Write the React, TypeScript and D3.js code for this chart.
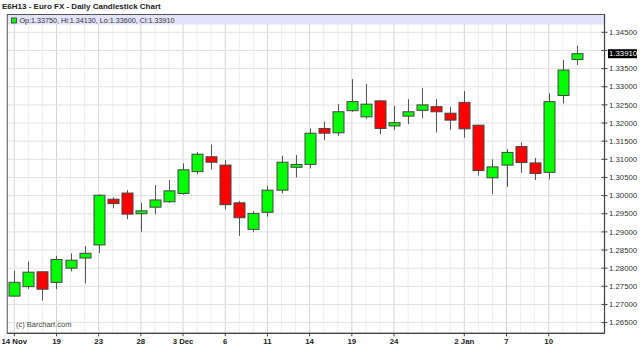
import React from "react";
import * as d3 from "d3";

const dates = [
  "2012-11-14","2012-11-15","2012-11-16","2012-11-19","2012-11-20","2012-11-21","2012-11-23",
  "2012-11-26","2012-11-27","2012-11-28","2012-11-29","2012-11-30",
  "2012-12-03","2012-12-04","2012-12-05","2012-12-06","2012-12-07",
  "2012-12-10","2012-12-11","2012-12-12","2012-12-13","2012-12-14",
  "2012-12-17","2012-12-18","2012-12-19","2012-12-20","2012-12-21",
  "2012-12-24","2012-12-26","2012-12-27","2012-12-28","2012-12-31",
  "2013-01-02","2013-01-03","2013-01-04","2013-01-07","2013-01-08","2013-01-09","2013-01-10","2013-01-11","2013-01-14",
];
const opens = [
  1.2723,1.2749,1.2790,1.2761,1.2800,1.2828,1.2864,
  1.2990,1.3007,1.2950,1.2968,1.2983,
  1.3006,1.3066,1.3107,1.3084,1.2980,
  1.2907,1.2954,1.3015,1.3078,1.3086,
  1.3185,1.3173,1.3234,1.3217,1.3261,
  1.3192,1.3219,1.3235,1.3245,1.3227,
  1.3257,1.3194,1.3049,1.3084,1.3135,1.3090,1.3064,1.3276,1.3375,
];
const highs = [
  1.2793,1.2818,1.2791,1.2834,1.2841,1.2861,1.3003,
  1.2995,1.3015,1.2980,1.3029,1.3043,
  1.3089,1.3120,1.3141,1.3098,1.2985,
  1.2957,1.3027,1.3110,1.3112,1.3185,
  1.3204,1.3252,1.3321,1.3308,1.3262,
  1.3247,1.3266,1.3296,1.3266,1.3245,
  1.3288,1.3195,1.3100,1.3128,1.3147,1.3104,1.3282,1.3374,1.3413,
];
const lows = [
  1.2722,1.2743,1.2710,1.2742,1.2791,1.2758,1.2842,
  1.2965,1.2935,1.2900,1.2948,1.2980,
  1.3002,1.3059,1.3072,1.2962,1.2889,
  1.2899,1.2942,1.3006,1.3050,1.3075,
  1.3153,1.3165,1.3231,1.3212,1.3169,
  1.3181,1.3197,1.3213,1.3174,1.3181,
  1.3160,1.3055,1.3004,1.3024,1.3063,1.3043,1.3045,1.3254,1.3360,
];
const closes = [
  1.2761,1.2789,1.2742,1.2824,1.2822,1.2841,1.3001,
  1.2978,1.2949,1.2958,1.2988,1.3013,
  1.3071,1.3114,1.3092,1.2975,1.2939,
  1.2951,1.3015,1.3092,1.3086,1.3172,
  1.3172,1.3231,1.3259,1.3252,1.3185,
  1.3201,1.3231,1.3250,1.3231,1.3208,
  1.3184,1.3069,1.3079,1.3119,1.3091,1.3061,1.3259,1.3346,1.3391,
];
const tickDates = ["2012-11-14","2012-11-19","2012-11-23","2012-11-28","2012-12-03","2012-12-06","2012-12-11","2012-12-14","2012-12-19","2012-12-24","2013-01-02","2013-01-07","2013-01-10"];
const tickLabels = ["14 Nov","19","23","28","3 Dec","6","11","14","19","24","2 Jan","7","10"];
const yTicks = [1.265,1.27,1.275,1.28,1.285,1.29,1.295,1.30,1.305,1.31,1.315,1.32,1.325,1.33,1.335,1.34,1.345];
const title = "E6H13 - Euro FX - Daily Candlestick Chart";

const FONT = "'Liberation Sans', Arial, sans-serif";

export default function App() {
  const W = 640, H = 363;
  const x = d3.scaleLinear().domain([0, 38]).range([14.3, 548.7]);
  const y = d3.scaleLinear().domain([1.265, 1.345]).range([322.6, 32.3]);
  const left = x(-0.5), right = 604.5, top = 14.5, bottom = 333.3;
  const bw = 11;
  const last = dates.length - 1;
  const fmt = d3.format(".5f");
  const tickIdx = tickDates.map((d) => dates.indexOf(d));
  const major = new Set(tickIdx);
  const lastY = y(closes[last]);

  return (
    <svg width={W} height={H} style={{ position: "absolute", left: 0, top: 0, background: "#fff" }} fontFamily={FONT}>
      <rect x={0} y={0} width={W} height={H} fill="#fff" />
      <text x={2} y={9} fontSize={8} fontWeight="bold" fill="#222">{title}</text>
      {/* vertical grid */}
      {dates.map((d, i) => (
        <line key={"vg" + i} x1={x(i)} x2={x(i)} y1={top} y2={bottom}
          stroke={major.has(i) ? "#d6d6d6" : "#eeeeee"} strokeWidth={1} />
      ))}
      {[41, 42].map((i) => (
        <line key={"vgx" + i} x1={x(i)} x2={x(i)} y1={top} y2={bottom} stroke="#eeeeee" strokeWidth={1} />
      ))}
      {/* horizontal grid */}
      {yTicks.map((t) => (
        <line key={"hg" + t} x1={left} x2={right} y1={y(t)} y2={y(t)} stroke="#e2e2e2" strokeWidth={1} />
      ))}
      {/* header band */}
      <rect x={left} y={top} width={right - left} height={10} fill="#e2e2fa" />
      <rect x={11.5} y={18} width={5} height={5} fill="#00ff00" stroke="#333" strokeWidth={0.8} />
      <text x={19.5} y={23} fontSize={7.2} fill="#333">
        {`Op:${fmt(opens[last])}, Hi:${fmt(highs[last])}, Lo:${fmt(lows[last])}, Cl:${fmt(closes[last])}`}
      </text>
      <text x={16} y={327} fontSize={7.5} fill="#444">(c) Barchart.com</text>
      {/* candles */}
      {dates.map((d, i) => {
        const o = opens[i], c = closes[i];
        const up = c >= o;
        const yt = y(Math.max(o, c)), yb = y(Math.min(o, c));
        const cx = Math.round(x(i)) + 0.5;
        return (
          <g key={"c" + i}>
            <line x1={cx} x2={cx} y1={y(highs[i])} y2={y(lows[i])} stroke="#555" strokeWidth={1} />
            <rect x={cx - bw / 2} y={yt} width={bw} height={Math.max(yb - yt, 1)}
              fill={up ? "#00ff00" : "#ff0000"} stroke="#444" strokeWidth={1} />
          </g>
        );
      })}
      {/* frame */}
      <rect x={left} y={top} width={right - left} height={bottom - top} fill="none" stroke="#555" strokeWidth={1} />
      <line x1={left} x2={right} y1={bottom} y2={bottom} stroke="#444" strokeWidth={1.2} />
      <line x1={right} x2={right} y1={top} y2={bottom} stroke="#444" strokeWidth={1.2} />
      {/* right axis */}
      {yTicks.map((t) => (
        <g key={"yt" + t}>
          <line x1={right - 3} x2={right + 3} y1={y(t)} y2={y(t)} stroke="#444" />
          {Math.abs(y(t) - lastY) > 9 && (
            <text x={609} y={y(t)} dy="0.35em" fontSize={7.8} fill="#333">{fmt(t)}</text>
          )}
        </g>
      ))}
      <rect x={608} y={lastY - 4.5} width={29} height={9} fill="#000" />
      <text x={609} y={lastY} dy="0.35em" fontSize={7.8} fill="#fff">{fmt(closes[last])}</text>
      {/* bottom axis */}
      {tickIdx.map((i, k) => (
        <g key={"xt" + k}>
          <line x1={x(i)} x2={x(i)} y1={bottom} y2={bottom + 3} stroke="#444" />
          <text x={x(i)} y={344} textAnchor="middle" fontSize={7.8} fontWeight="bold" fill="#222">{tickLabels[k]}</text>
        </g>
      ))}
    </svg>
  );
}
